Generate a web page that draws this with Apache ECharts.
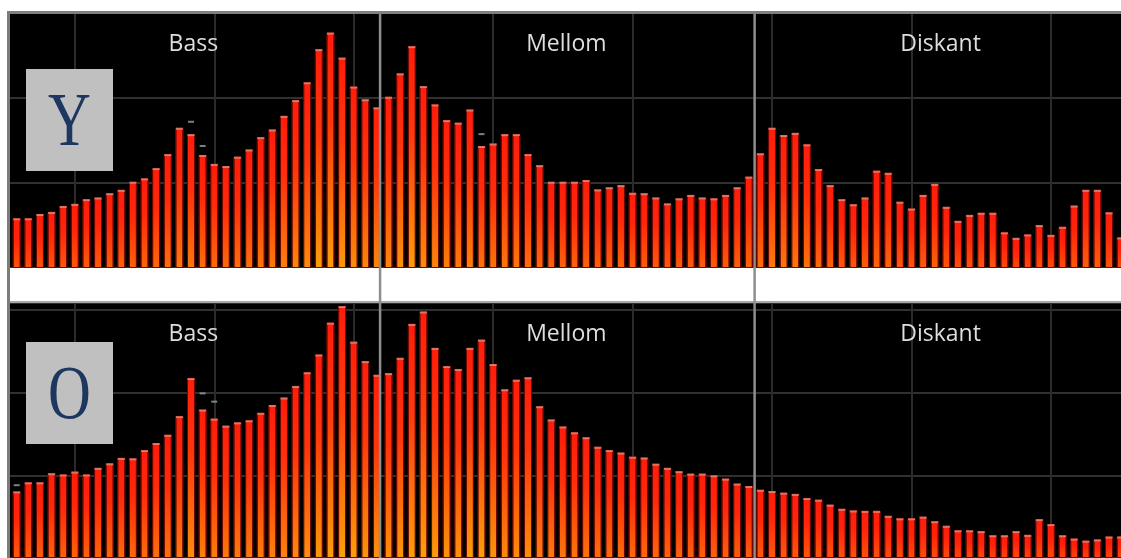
<!DOCTYPE html>
<html><head><meta charset="utf-8">
<script src="https://cdn.jsdelivr.net/npm/echarts@6/dist/echarts.min.js"></script>
<style>html,body{margin:0;padding:0;background:#fff;overflow:hidden}#c{width:1121px;height:558px}</style>
</head><body><div id="c"></div>
<script>
// ---- data ----
const bandNames = ['Bass', 'Mellom', 'Diskant'];
const bandLabelPos = [15.2, 47.3, 79.5];     // x position (bar index) of the band captions
const bandEdges = [31.27, 63.5];             // x position (bar index) of the band separators
const gridXs = [5, 17, 29, 41, 53, 65, 77, 89]; // faint vertical grid lines (bar index)
const panelLetters = ['Y', 'O'];

const topValues = [
  11.7,11.7,12.7,13.2,14.6,15.1,16.2,16.6,17.6,18.4,
  20.3,21.1,23.5,26.8,33.0,31.5,26.6,24.5,24.0,26.2,
  27.9,30.8,32.6,35.8,39.5,43.7,51.5,55.4,49.5,42.7,
  39.7,37.8,40.3,45.8,52.2,42.8,38.5,34.8,34.2,37.3,
  28.7,29.3,31.5,31.5,26.8,24.2,20.3,20.3,20.3,20.7,
  18.5,19.0,19.5,17.7,17.6,16.6,15.2,16.4,17.2,16.6,
  16.4,17.2,19.0,21.5,27.0,33.0,31.3,31.8,29.1,23.3,
  19.5,16.2,15.0,16.6,22.9,22.4,15.6,14.0,17.2,19.8,
  14.4,11.1,12.5,13.0,13.0,8.4,7.1,7.9,10.1,7.8,
  9.7,14.7,18.4,18.4,13.1,7.2
];
const bottomValues = [
  16.1,18.3,18.3,20.5,20.2,20.9,20.2,21.8,22.9,24.2,
  24.1,26.1,27.8,29.8,34.3,43.5,35.9,33.7,32.0,32.8,
  33.3,35.1,37.0,38.8,41.6,44.9,49.2,56.9,60.9,52.3,
  47.6,44.3,44.7,48.4,56.6,59.6,50.8,46.4,45.7,50.8,
  52.8,46.9,40.8,43.1,43.7,36.7,33.5,31.8,30.4,29.2,
  26.9,26.1,25.5,24.5,24.3,22.8,21.8,21.0,20.4,20.4,
  20.0,19.2,18.0,17.4,16.5,16.2,15.8,15.5,14.5,14.1,
  12.9,11.9,11.5,11.4,11.4,10.2,9.6,9.6,10.0,8.9,
  7.8,6.7,6.7,6.5,5.5,5.5,6.5,5.6,9.4,8.2,
  5.5,4.7,4.2,4.5,5.2,5.2
];
const topPeaks = [[15, 34.4], [16, 28.7], [40, 31.5]];
const bottomPeaks = [[0, 17.6], [16, 39.8], [17, 37.8]];

// ---- styling helpers ----
function mix(a, b, t) {
  const pa = a.match(/\w\w/g).map(h => parseInt(h, 16));
  const pb = b.match(/\w\w/g).map(h => parseInt(h, 16));
  return 'rgb(' + pa.map((v, i) => Math.round(v + (pb[i] - v) * t)).join(',') + ')';
}
function barItems(vals) {
  return vals.map((v, i) => ({
    value: [i, v],
    itemStyle: {
      color: new echarts.graphic.LinearGradient(0, 0, 0, 1, [
        { offset: 0, color: '#ff1c0a' },
        { offset: 0.4, color: mix('ff1c0a', 'f8900a', Math.min(1, v / 60) * 0.3) },
        { offset: 1, color: mix('ff1c0a', 'f8a00a', Math.min(1, 0.25 + v / 70)) }
      ])
    }
  }));
}

const chart = echarts.init(document.getElementById('c'), null, { renderer: 'canvas' });

function panelSeries(idx, vals, peaks) {
  return [
    {
      type: 'scatter', xAxisIndex: idx, yAxisIndex: idx, z: 1, data: [], silent: true,
      markLine: {
        silent: true, symbol: 'none', z: 1, animation: false,
        label: { show: false },
        lineStyle: { color: '#2b2b2b', width: 2, type: 'solid' },
        data: gridXs.map(x => ({ xAxis: x }))
      }
    },
    {
      type: 'bar', xAxisIndex: idx, yAxisIndex: idx, barWidth: 8, z: 2,
      data: barItems(vals),
      itemStyle: { borderColor: 'rgba(110,8,0,0.9)', borderWidth: 1 },
      animation: false, silent: true
    },
    {
      type: 'scatter', xAxisIndex: idx, yAxisIndex: idx, z: 3,
      symbol: 'rect', symbolSize: [7, 2], symbolOffset: [0, 1],
      data: vals.map((v, i) => [i, v]),
      itemStyle: { color: '#e8907c' }, animation: false, silent: true
    },
    {
      type: 'scatter', xAxisIndex: idx, yAxisIndex: idx, z: 3,
      symbol: 'rect', symbolSize: [6, 2],
      data: peaks,
      itemStyle: { color: '#8fa6ad' }, animation: false, silent: true
    }
  ];
}

const xAx = g => ({ type: 'value', gridIndex: g, min: -0.577, max: 95.03, show: false });
const yAx = (g, max) => ({
  type: 'value', gridIndex: g, min: 0, max: max, interval: 20,
  axisLine: { show: false }, axisTick: { show: false }, axisLabel: { show: false },
  splitLine: { show: true, lineStyle: { color: '#303030', width: 2 } }
});

chart.setOption({
  backgroundColor: '#ffffff',
  animation: false,
  grid: [
    { left: 10, right: 0, top: 13, height: 255, show: true, backgroundColor: '#000', borderWidth: 0 },
    { left: 10, right: 0, top: 303, height: 262, show: true, backgroundColor: '#000', borderWidth: 0 }
  ],
  xAxis: [xAx(0), xAx(1)],
  yAxis: [yAx(0, 60), yAx(1, 61.647)],
  series: panelSeries(0, topValues, topPeaks).concat(panelSeries(1, bottomValues, bottomPeaks))
});

// decorations positioned through the axis scale
const gfx = [];
gfx.push({ type: 'rect', z: 10, shape: { x: 10, y: 268, width: 1111, height: 33 }, style: { fill: '#ffffff' } });
gfx.push({ type: 'rect', z: 10, shape: { x: 10, y: 301, width: 1111, height: 2 }, style: { fill: '#a8a8a8' } });
gfx.push({ type: 'rect', z: 12, shape: { x: 7, y: 11, width: 1114, height: 3 }, style: { fill: '#808080' } });
gfx.push({ type: 'rect', z: 12, shape: { x: 7, y: 11, width: 3, height: 547 }, style: { fill: '#7c7c7c' } });
bandEdges.forEach(b => {
  const px = chart.convertToPixel({ xAxisIndex: 0 }, b);
  gfx.push({ type: 'rect', z: 11, shape: { x: px - 1.25, y: 11, width: 2.5, height: 547 }, style: { fill: '#8e8e8e' } });
});
const capY = [44, 334];
capY.forEach(cy => {
  bandNames.forEach((n, i) => {
    const px = chart.convertToPixel({ xAxisIndex: 0 }, bandLabelPos[i]);
    gfx.push({ type: 'text', z: 20, x: px, y: cy,
      style: { text: n, x: 0, y: 0, textAlign: 'center', textVerticalAlign: 'middle',
        font: '23px "Open Sans", "Noto Sans", sans-serif', fill: '#dedede' } });
  });
});
const boxY = [69, 342];
panelLetters.forEach((l, i) => {
  gfx.push({ type: 'rect', z: 20, shape: { x: 26, y: boxY[i], width: 87, height: 102 }, style: { fill: '#c0c0c0' } });
  gfx.push({ type: 'text', z: 21, x: 69.5, y: boxY[i] + 56, scaleX: 0.78,
    style: { text: l, x: 0, y: 0, textAlign: 'center', textVerticalAlign: 'middle',
      font: '76px "Liberation Serif", "DejaVu Serif", serif', fill: '#1d3760' } });
});
chart.setOption({ graphic: { elements: gfx } });
</script>
</body></html>
